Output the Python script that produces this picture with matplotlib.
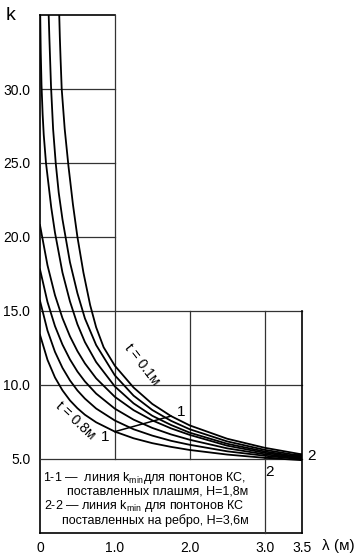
import numpy as np
import matplotlib
matplotlib.use('Agg')
import matplotlib.pyplot as plt

plt.rcParams['font.family'] = ['Liberation Sans', 'DejaVu Sans']
plt.rcParams['mathtext.fontset'] = 'custom'
plt.rcParams['mathtext.rm'] = 'Liberation Sans'
plt.rcParams['mathtext.it'] = 'Liberation Sans'

#%% curves k(lambda) for t = 0.1 ... 0.8 m
lam_A = [0.257, 0.265, 0.275, 0.29, 0.33, 0.38, 0.44, 0.5, 0.58, 0.67, 0.75, 0.85, 1.0, 1.25, 1.5, 1.75, 2.0, 2.5, 3.0, 3.5]
k_A = [35.0, 33.5, 32.0, 30.0, 27.3, 24.8, 22.2, 20.0, 17.6, 15.4, 13.9, 12.55, 11.3, 9.83, 8.72, 7.9, 7.27, 6.37, 5.76, 5.31]

lam_B = [0.116, 0.125, 0.135, 0.147, 0.175, 0.21, 0.25, 0.3, 0.4, 0.5, 0.6, 0.75, 1.0, 1.25, 1.5, 1.75, 2.0, 2.5, 3.0, 3.5]
k_B = [35.0, 33.5, 32.0, 30.2, 27.3, 25.0, 23.0, 21.2, 18.3, 16.2, 14.5, 12.7, 10.65, 9.28, 8.31, 7.58, 7.01, 6.19, 5.62, 5.2]

lam_C = [0.003, 0.01, 0.02, 0.035, 0.05, 0.08, 0.15, 0.2, 0.3, 0.4, 0.5, 0.6, 0.75, 1.0, 1.25, 1.5, 1.75, 2.0, 2.5, 3.0, 3.5]
k_C = [35.0, 32.5, 30.3, 28.3, 26.9, 25.0, 22.0, 20.3, 17.6, 15.65, 14.1, 12.9, 11.55, 9.9, 8.76, 7.92, 7.3, 6.78, 6.03, 5.51, 5.12]

lam_grid = [0.0, 0.1, 0.2, 0.3, 0.4, 0.5, 0.6, 0.75, 1.0, 1.25, 1.5, 1.75, 2.0, 2.5, 3.0, 3.5]
k_D = [20.8, 18.09, 16.07, 14.52, 13.29, 12.29, 11.46, 10.45, 9.2, 8.3, 7.61, 7.07, 6.63, 5.9, 5.42, 5.08]
k_E = [17.81, 15.61, 13.98, 12.73, 11.73, 10.91, 10.24, 9.42, 8.4, 7.66, 7.1, 6.66, 6.3, 5.72, 5.32, 5.03]
k_F = [15.69, 13.68, 12.24, 11.16, 10.31, 9.63, 9.08, 8.41, 7.6, 7.01, 6.58, 6.23, 5.96, 5.52, 5.22, 4.98]
k_G = [13.39, 11.7, 10.51, 9.64, 8.96, 8.43, 7.99, 7.48, 6.85, 6.4, 6.07, 5.82, 5.61, 5.3, 5.08, 4.92]

# k_min lines 1-1 and 2-2
lam_11 = [1.0, 1.75]
k_11 = [6.85, 7.9]
lam_22 = [3.0, 3.5]
k_22 = [5.08, 5.31]

yticks = [5.0, 10.0, 15.0, 20.0, 25.0, 30.0]
xticks = [0, 1.0, 2.0, 3.0, 3.5]
xtick_lab = ['0', '1.0', '2.0', '3.0', '3.5']

legend_txt = ['1-1 \u2014  линия k$_{\\rm min}$для понтонов КС,',
              'поставленных плашмя, H=1,8м',
              '2-2 \u2014 линия k$_{\\rm min}$ для понтонов КС',
              'поставленных на ребро, H=3,6м']

#%% figure
fig = plt.figure(figsize=(3.6, 5.58), dpi=100)
ax = fig.add_axes([40/360, 25/558, 262/360, 518/558])
ax.set_xlim(0, 3.5)
ax.set_ylim(0, 35)
for s in ax.spines.values():
    s.set_visible(False)

# frame and grid (L-shaped)
fr = dict(color='black', lw=1.2, clip_on=False, solid_capstyle='projecting')
gr = dict(color='#333333', lw=0.9, clip_on=False)
ax.plot([0, 0], [0, 35], **fr)
ax.plot([0, 1], [35, 35], **fr)
ax.plot([0, 3.5], [0, 0], **fr)
ax.plot([1, 1], [5, 35], **gr)
for y in [20, 25, 30]:
    ax.plot([0, 1], [y, y], **gr)
for y in [5, 10, 15]:
    ax.plot([0, 3.5], [y, y], **gr)
ax.plot([2, 2], [5, 15], **gr)
ax.plot([3, 3], [0, 15], **gr)
ax.plot([3.5, 3.5], [0, 15], **fr)

cv = dict(color='black', lw=1.3, solid_joinstyle='round')
ax.plot(lam_A, k_A, **cv)
ax.plot(lam_B, k_B, **cv)
ax.plot(lam_C, k_C, **cv)
for kk in [k_D, k_E, k_F, k_G]:
    ax.plot(lam_grid, kk, **cv)
ax.plot(lam_11, k_11, color='black', lw=1.1)
ax.plot(lam_22, k_22, color='black', lw=1.1)

ax.set_yticks(yticks)
ax.set_yticklabels(['%.1f' % v for v in yticks], fontsize=10)
ax.set_xticks(xticks)
ax.set_xticklabels(xtick_lab, fontsize=10)
ax.tick_params(length=0, pad=6)
ax.tick_params(axis='y', pad=7)

fig.text(11/360, 1 - 16/558, 'k', fontsize=14, ha='center', va='center')
fig.text(338/360, 1 - 546/558, 'λ (м)', fontsize=11, ha='center', va='center')

# annotations
ax.text(1.36, 11.4, 't = 0.1м', rotation=-52, fontsize=10, ha='center', va='center')
ax.text(0.47, 7.6, 't = 0.8м', rotation=-43, fontsize=10, ha='center', va='center')
ax.text(0.87, 6.5, '1', fontsize=11, ha='center', va='center')
ax.text(1.88, 8.2, '1', fontsize=11, ha='center', va='center')
ax.text(3.63, 5.2, '2', fontsize=11, ha='center', va='center', clip_on=False)
ax.text(3.06, 4.15, '2', fontsize=11, ha='center', va='center')

# legend text
lf = dict(fontsize=9, ha='left', va='center')
ax.text(0.04, 3.75, legend_txt[0], **lf)
ax.text(0.36, 2.8, legend_txt[1], **lf)
ax.text(0.06, 1.85, legend_txt[2], **lf)
ax.text(0.29, 0.85, legend_txt[3], **lf)

fig.savefig('out.png', dpi=100)
